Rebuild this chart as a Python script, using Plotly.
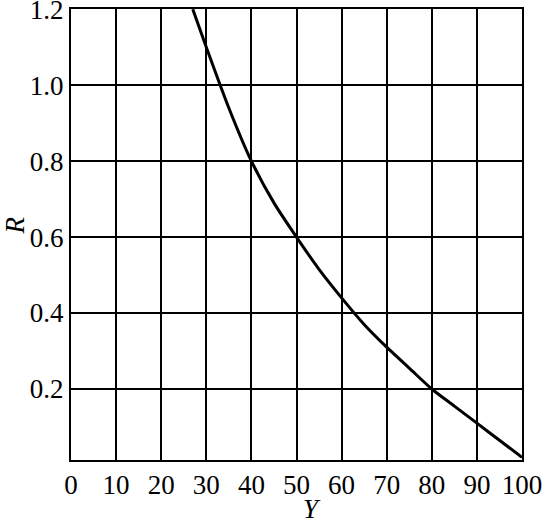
import plotly.graph_objects as go

# Data
y_vals = [27, 30, 35, 40, 45, 50, 55, 60, 65, 70, 75, 80, 85, 90, 95, 100]
r_vals = [1.2, 1.1, 0.94, 0.8, 0.69, 0.6, 0.515, 0.44, 0.37, 0.31, 0.255, 0.2, 0.155, 0.11, 0.065, 0.02]

x_ticks = [0, 10, 20, 30, 40, 50, 60, 70, 80, 90, 100]
y_ticks = [0.2, 0.4, 0.6, 0.8, 1.0, 1.2]
y_tick_text = ["0.2", "0.4", "0.6", "0.8", "1.0", "1.2"]
x_title = "Y"
y_title = "R"

font_family = "Liberation Serif"
fs = 27

fig = go.Figure()
fig.add_trace(go.Scatter(
    x=y_vals, y=r_vals, mode="lines",
    line=dict(color="black", width=3, shape="spline", smoothing=0.8),
    showlegend=False, hoverinfo="skip",
))

fig.update_layout(
    width=542, height=524,
    margin=dict(l=71, r=20, t=9, b=64, autoexpand=False),
    paper_bgcolor="white", plot_bgcolor="white",
    font=dict(family=font_family, size=fs, color="black"),
    xaxis=dict(
        range=[0, 100], tickmode="array", tickvals=x_ticks,
        showgrid=True, gridcolor="black", gridwidth=1.5,
        showline=True, linecolor="black", linewidth=2, mirror=True,
        ticks="", ticklen=0, zeroline=False, ticklabeloverflow="allow",
        automargin=False,
        tickfont=dict(family=font_family, size=fs),
    ),
    yaxis=dict(
        range=[0.013, 1.2005], tickmode="array", tickvals=y_ticks, ticktext=y_tick_text,
        showgrid=True, gridcolor="black", gridwidth=1.5,
        showline=True, linecolor="black", linewidth=2, mirror=True,
        ticks="", ticklen=0, zeroline=False, ticklabeloverflow="allow",
        automargin=False,
        tickfont=dict(family=font_family, size=fs),
    ),
    annotations=[
        dict(text="<i>%s</i>" % x_title, xref="paper", yref="paper",
             x=0.534, y=0, yshift=-49, xanchor="center", yanchor="middle",
             showarrow=False, font=dict(family=font_family, size=fs)),
        dict(text="<i>%s</i>" % y_title, xref="paper", yref="paper",
             x=0, y=0.52, xshift=-56, xanchor="center", yanchor="middle",
             textangle=-90, showarrow=False, font=dict(family=font_family, size=fs)),
    ],
)

fig.write_html(
    "out.html",
    config={"displayModeBar": False},
    post_script="document.body.style.margin='0';document.body.style.overflow='hidden';",
)
